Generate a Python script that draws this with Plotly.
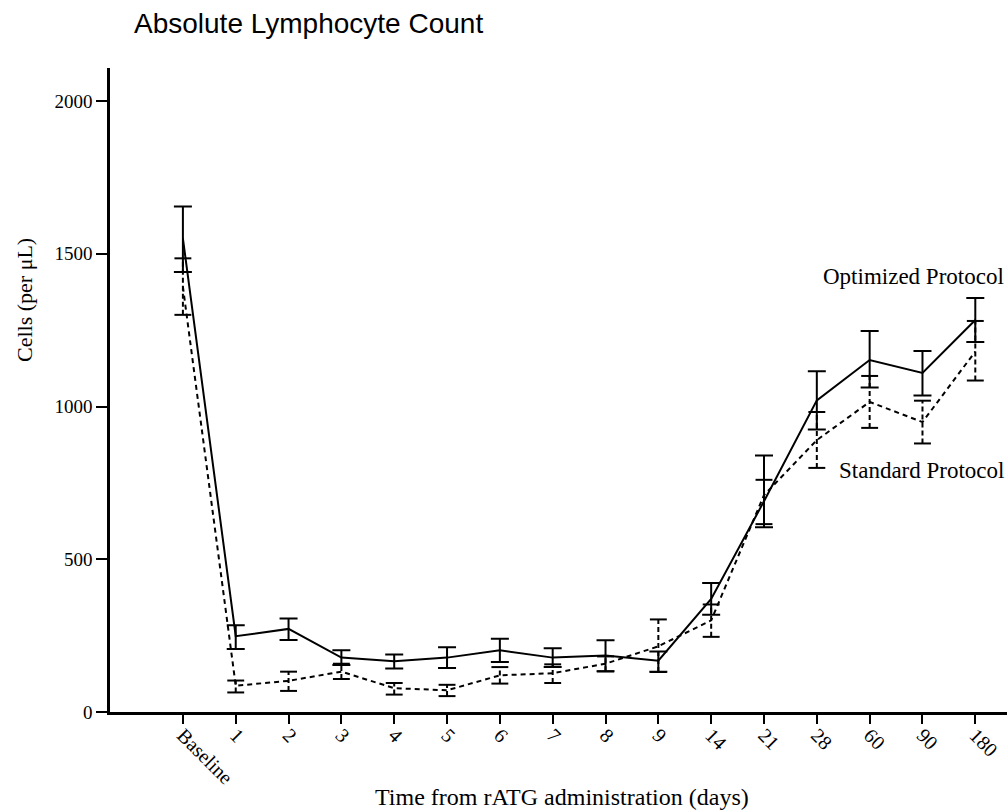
import plotly.graph_objects as go

categories = ["Baseline", "1", "2", "3", "4", "5", "6", "7", "8", "9",
              "14", "21", "28", "60", "90", "180"]

optimized_mean = [1550, 248, 272, 178, 166, 178, 202, 178, 185, 168,
                  370, 690, 1020, 1152, 1110, 1283]
optimized_err_plus = [105, 36, 34, 24, 22, 34, 38, 31, 50, 30,
                      52, 150, 95, 95, 72, 72]
optimized_err_minus = [110, 42, 36, 24, 24, 34, 38, 31, 52, 36,
                       52, 85, 95, 90, 74, 72]

standard_mean = [1392, 86, 102, 132, 78, 71, 120, 127, 158, 215,
                 300, 710, 890, 1015, 949, 1180]
standard_err_plus = [93, 17, 30, 26, 17, 18, 27, 29, 24, 88,
                     52, 50, 92, 85, 70, 100]
standard_err_minus = [92, 22, 33, 24, 21, 19, 27, 32, 25, 84,
                      54, 95, 91, 85, 70, 95]

xs = list(range(len(categories)))
CAP = 0.16  # half width of standard-protocol caps, in category units

fig = go.Figure()

# Optimized protocol (solid)
fig.add_trace(go.Scatter(
    x=xs, y=optimized_mean, mode="lines",
    line=dict(color="black", width=2),
    error_y=dict(type="data", symmetric=False, array=optimized_err_plus,
                 arrayminus=optimized_err_minus, color="black",
                 thickness=2, width=9),
    showlegend=False, hoverinfo="skip"))

# Standard protocol (dashed)
fig.add_trace(go.Scatter(
    x=xs, y=standard_mean, mode="lines",
    line=dict(color="black", width=2, dash="5px,4px"),
    showlegend=False, hoverinfo="skip"))

# Dashed vertical error bars for standard protocol
vx, vy, cx, cy = [], [], [], []
for x, m, ep, em in zip(xs, standard_mean, standard_err_plus, standard_err_minus):
    vx += [x, x, None]
    vy += [m - em, m + ep, None]
    for yy in (m - em, m + ep):
        cx += [x - CAP, x + CAP, None]
        cy += [yy, yy, None]
fig.add_trace(go.Scatter(x=vx, y=vy, mode="lines",
                         line=dict(color="black", width=2, dash="5px,3px"),
                         showlegend=False, hoverinfo="skip"))
fig.add_trace(go.Scatter(x=cx, y=cy, mode="lines",
                         line=dict(color="black", width=2),
                         showlegend=False, hoverinfo="skip"))

serif = "Liberation Serif, Times New Roman, serif"

fig.update_layout(
    width=1007, height=811,
    margin=dict(l=110, r=0, t=68, b=99),
    paper_bgcolor="white", plot_bgcolor="white",
    font=dict(family=serif, size=19, color="black"),
    xaxis=dict(
        range=[-1.38, 15.6], tickmode="array", tickvals=xs, ticktext=categories,
        tickangle=45, ticks="outside", ticklen=9, tickwidth=2, tickcolor="black",
        ticklabelstandoff=-8,
        showline=True, linecolor="black", linewidth=2.5, showgrid=False,
        zeroline=False, tickfont=dict(family=serif, size=20)),
    yaxis=dict(
        range=[0, 2108], tickvals=[0, 500, 1000, 1500, 2000],
        ticks="outside", ticklen=11, tickwidth=2, tickcolor="black",
        showline=True, linecolor="black", linewidth=2.5, showgrid=False,
        zeroline=False, tickfont=dict(family=serif, size=19)),
    annotations=[
        dict(text="Absolute Lymphocyte Count", xref="paper", yref="paper",
             x=(132 - 110) / 897, y=1 + (68 - 23) / 644, xanchor="left",
             yanchor="middle", showarrow=False,
             font=dict(family="Liberation Sans, Arial, sans-serif", size=28)),
        dict(text="Cells (per μL)", xref="paper", yref="paper",
             x=-(110 - 24) / 897, y=(712 - 300) / 644, textangle=-90,
             xanchor="center", yanchor="middle", showarrow=False,
             font=dict(family=serif, size=22)),
        dict(text="Time from rATG administration (days)", xref="paper",
             yref="paper", x=(562 - 110) / 897, y=-(797 - 712) / 644,
             xanchor="center", yanchor="middle", showarrow=False,
             font=dict(family=serif, size=24)),
        dict(text="Optimized Protocol", xref="paper", yref="y",
             x=(1006 - 110) / 897, y=1424, xanchor="right", yanchor="middle",
             showarrow=False, font=dict(family=serif, size=23)),
        dict(text="Standard Protocol", xref="paper", yref="y",
             x=(1006 - 110) / 897, y=789, xanchor="right", yanchor="middle",
             showarrow=False, font=dict(family=serif, size=23)),
    ],
)

fig.write_html("out.html")
